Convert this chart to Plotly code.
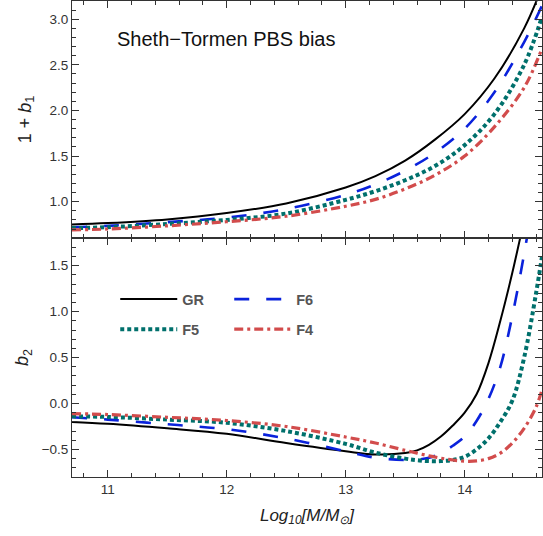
import plotly.graph_objects as go

# ---------------- data ----------------
mass_top = [10.7, 11.0, 11.5, 12.0, 12.5, 13.0, 13.25, 13.5, 13.75, 14.0, 14.25, 14.5, 14.65]
gr_b1 = [0.75, 0.765, 0.805, 0.875, 0.98, 1.155, 1.28, 1.45, 1.68, 1.96, 2.35, 2.9, 3.35]
f6_b1 = [0.72, 0.735, 0.775, 0.825, 0.92, 1.075, 1.19, 1.34, 1.535, 1.8, 2.2, 2.75, 3.15]
f5_b1 = [0.71, 0.72, 0.755, 0.80, 0.87, 1.02, 1.115, 1.235, 1.39, 1.62, 1.96, 2.5, 3.03]
f4_b1 = [0.69, 0.70, 0.735, 0.78, 0.84, 0.95, 1.025, 1.14, 1.29, 1.5, 1.82, 2.25, 2.68]

mass_bot = [10.7, 11.0, 11.5, 12.0, 12.5, 13.0, 13.25, 13.5, 13.6, 13.7, 13.8, 13.9, 14.0,
            14.1, 14.2, 14.3, 14.4, 14.5, 14.6, 14.65]
gr_b2 = [-0.20, -0.22, -0.27, -0.33, -0.43, -0.52, -0.555, -0.54, -0.51, -0.45, -0.36, -0.24, -0.10,
         0.10, 0.44, 0.90, 1.42, 2.0, 2.6, 2.9]
f6_b2 = [-0.15, -0.175, -0.226, -0.28, -0.38, -0.52, -0.59, -0.615, -0.61, -0.59, -0.54, -0.46, -0.36,
         -0.19, 0.05, 0.40, 0.95, 1.63, 2.4, 2.8]
f5_b2 = [-0.14, -0.146, -0.175, -0.21, -0.30, -0.44, -0.535, -0.60, -0.617, -0.627, -0.627, -0.615, -0.58,
         -0.50, -0.38, -0.20, 0.03, 0.50, 1.2, 1.6]
f4_b2 = [-0.11, -0.12, -0.15, -0.185, -0.25, -0.365, -0.43, -0.51, -0.54, -0.57, -0.595, -0.615, -0.628,
         -0.625, -0.60, -0.54, -0.43, -0.27, -0.04, 0.15]

names = ["GR", "F6", "F5", "F4"]
x_ticks = [11, 12, 13, 14]
top_ticks = [1.0, 1.5, 2.0, 2.5, 3.0]
bot_ticks = [-0.5, 0.0, 0.5, 1.0, 1.5]

# ---------------- styles ----------------
FONT = "Liberation Sans, Arial, sans-serif"
FRAME = "#333333"
styles = {
    "GR": dict(color="#000000", width=2.0, dash="solid"),
    "F6": dict(color="#0a22dc", width=2.6, dash="15px,17px"),
    "F5": dict(color="#00706c", width=4.0, dash="4px,3px"),
    "F4": dict(color="#d24c4c", width=3.2, dash="9px,4px,3px,4px"),
}
legend_of = {"GR": "legend", "F6": "legend", "F5": "legend2", "F4": "legend2"}

top_series = {"GR": gr_b1, "F6": f6_b1, "F5": f5_b1, "F4": f4_b1}
bot_series = {"GR": gr_b2, "F6": f6_b2, "F5": f5_b2, "F4": f4_b2}

fig = go.Figure()
for n in names:
    fig.add_trace(go.Scatter(x=mass_top, y=top_series[n], mode="lines", name=n,
                             line=dict(shape="spline", **styles[n]),
                             xaxis="x2", yaxis="y2", showlegend=False))
for n in names:
    fig.add_trace(go.Scatter(x=mass_bot, y=bot_series[n], mode="lines", name=n,
                             line=dict(shape="spline", **styles[n]),
                             xaxis="x", yaxis="y", legend=legend_of[n]))

W, H = 543, 536
ml, mr, mt, mb = 72, 1, 1, 59
split = 0.5018

common_axis = dict(showline=True, linecolor=FRAME, linewidth=1, mirror="allticks",
                   ticks="inside", ticklen=7, tickcolor=FRAME, tickwidth=1,
                   showgrid=False, zeroline=False, automargin=False,
                   tickfont=dict(family=FONT, size=13.5, color="#333333"))

leg_common = dict(orientation="h", xanchor="left", yanchor="middle",
                  itemwidth=57, entrywidth=42, bgcolor="rgba(0,0,0,0)",
                  font=dict(family=FONT, size=14.5, color="#555555", weight="bold"))

fig.update_layout(
    width=W, height=H,
    margin=dict(l=ml, r=mr, t=mt, b=mb, autoexpand=False),
    paper_bgcolor="white", plot_bgcolor="white",
    font=dict(family=FONT),
    xaxis=dict(domain=[0, 1], range=[10.7, 14.65], tickvals=x_ticks, anchor="y",
               minor=dict(ticks="inside", ticklen=4, dtick=0.2, tick0=10, tickcolor=FRAME),
               title=dict(text="<i>Log<sub>10</sub>[M/M<sub>⊙</sub>]</i>",
                          font=dict(family=FONT, size=17, color="#222222"), standoff=12),
               **common_axis),
    xaxis2=dict(domain=[0, 1], range=[10.7, 14.65], tickvals=x_ticks, anchor="y2",
                matches="x", showticklabels=False,
                minor=dict(ticks="inside", ticklen=4, dtick=0.2, tick0=10, tickcolor=FRAME),
                **common_axis),
    yaxis=dict(domain=[0, split], range=[-0.8, 1.8], tickvals=bot_ticks, tickformat=".1f",
               anchor="x",
               minor=dict(ticks="inside", ticklen=4, dtick=0.1, tick0=0, tickcolor=FRAME),
               title=dict(text="<i>b</i><sub>2</sub>",
                          font=dict(family=FONT, size=18, color="#222222"), standoff=8),
               **common_axis),
    yaxis2=dict(domain=[split, 1], range=[0.6, 3.2], tickvals=top_ticks, tickformat=".1f",
                anchor="x2",
                minor=dict(ticks="inside", ticklen=4, dtick=0.1, tick0=0, tickcolor=FRAME),
                title=dict(text="1 + <i>b</i><sub>1</sub>",
                           font=dict(family=FONT, size=18, color="#222222"), standoff=13),
                **common_axis),
    legend=dict(x=0.092, y=0.3736, **leg_common),
    legend2=dict(x=0.092, y=0.3105, **leg_common),
    annotations=[dict(text="Sheth−Tormen PBS bias", xref="paper", yref="paper",
                      x=0.091, y=0.921, xanchor="left", yanchor="middle", showarrow=False,
                      font=dict(family=FONT, size=20, color="#111111"))],
)

fig.write_html("out.html", config={"displayModeBar": False},
               post_script="document.body.style.margin='0';document.body.style.overflow='hidden';")
